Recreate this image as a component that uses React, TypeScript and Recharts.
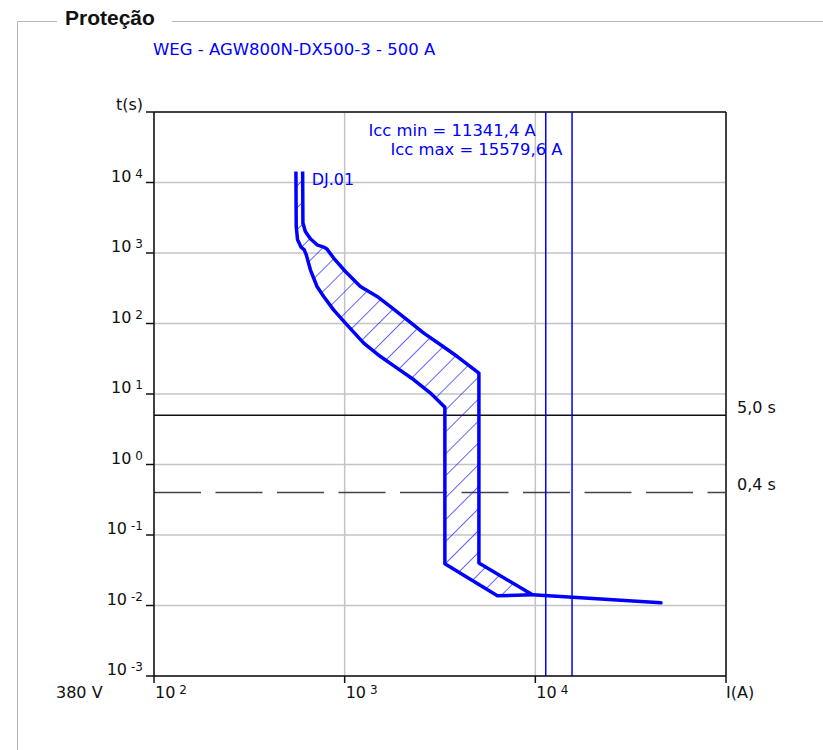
import React from "react";
import {
  ComposedChart,
  Scatter,
  XAxis,
  YAxis,
  CartesianGrid,
  ReferenceLine,
} from "recharts";

// axis ticks (log decades)
const xTicks = [100, 1000, 10000, 100000];
const yTicks = [0.001, 0.01, 0.1, 1, 10, 100, 1000, 10000, 100000];

// DJ.01 - lower (min) boundary of the trip band
const minCurveI = [555, 557, 566, 591, 614, 629, 661, 716, 776, 875, 1009, 1259, 1541, 1884, 2306, 2818, 3354, 3354, 6324, 9663];
const minCurveT = [14300, 2380, 1540, 1210, 1110, 942, 578, 335, 242, 156, 101, 52.7, 34, 23.3, 15.9, 10.3, 6.5, 0.039, 0.0137, 0.0142];

// DJ.01 - upper (max) boundary
const maxCurveI = [602, 604, 622, 661, 716, 776, 808, 875, 1009, 1209, 1479, 1738, 2128, 2601, 3184, 3897, 5059, 5059, 9663];
const maxCurveT = [14300, 2655, 2018, 1590, 1307, 1213, 1136, 847, 547, 335, 242, 174, 113, 73.1, 49.9, 34, 19.8, 0.04, 0.0142];

// instantaneous tail
const tailI = [9663, 45600];
const tailT = [0.0142, 0.0109];

const iccMin = 11341.4;
const iccMax = 15579.6;
const tLimit = 5.0;
const tContact = 0.4;

const BLUE = "#0000ff";
const INK = "#111111";
const FONT = "DejaVu Sans, Verdana, sans-serif";

const toPoints = (is: number[], ts: number[]) => is.map((i, k) => ({ i, t: ts[k] }));
const minCurve = toPoints(minCurveI, minCurveT);
const maxCurve = toPoints(maxCurveI, maxCurveT);
const band = [...minCurve, ...maxCurve.slice().reverse()];
const tail = toPoints(tailI, tailT);
const labelPoint = [maxCurve[0]];

const exp10 = (v: number) => Math.round(Math.log10(v));

function YTick({ x, y, payload }: any) {
  const v = payload.value;
  if (v >= 100000) {
    return (
      <text x={x} y={y - 2} textAnchor="end" fontSize={16} fill={INK} fontFamily={FONT}>
        t(s)
      </text>
    );
  }
  return (
    <text x={x} y={y - 1} textAnchor="end" fontSize={16} fill={INK} fontFamily={FONT}>
      10
      <tspan dx={4} dy={-4} fontSize={12}>
        {exp10(v)}
      </tspan>
    </text>
  );
}

function XTick({ x, y, payload }: any) {
  const v = payload.value;
  if (v >= 100000) {
    return (
      <text x={x} y={y + 15} fontSize={16} fill={INK} fontFamily={FONT}>
        I(A)
      </text>
    );
  }
  return (
    <text x={x + 1} y={y + 15} fontSize={16} fill={INK} fontFamily={FONT}>
      10
      <tspan dx={4} dy={-4} fontSize={12}>
        {exp10(v)}
      </tspan>
    </text>
  );
}

const noDot = () => <g />;

export default function App() {
  return (
    <div style={{ position: "absolute", left: 0, top: 0, width: 823, height: 750, background: "#fff" }}>
      <svg width={823} height={750} style={{ position: "absolute", left: 0, top: 0 }}>
        <path d="M57 21.5 H17.5 V750 M172 21.5 H823" stroke="#b8b8b8" fill="none" strokeWidth={1} />
        <text x={65} y={25} fontSize={21} fontWeight="bold" fontFamily="Liberation Sans, Arial, sans-serif" fill={INK}>
          Proteção
        </text>
        <text x={153} y={55} fontSize={16.5} fontFamily={FONT} fill={BLUE}>
          WEG - AGW800N-DX500-3 - 500 A
        </text>
      </svg>
      <div style={{ position: "absolute", left: 0, top: 0 }}>
        <ComposedChart width={823} height={750} margin={{ top: 112, right: 97, bottom: 44, left: 0 }}>
          <defs>
            <pattern id="hatch" patternUnits="userSpaceOnUse" width={15.5} height={15.5} patternTransform="rotate(45)">
              <line x1={0} y1={0} x2={0} y2={15.5} stroke={BLUE} strokeWidth={1.2} />
            </pattern>
          </defs>
          <CartesianGrid stroke="#c4c4c4" strokeWidth={1.5} />
          <XAxis
            dataKey="i"
            type="number"
            scale="log"
            domain={[100, 100000]}
            ticks={xTicks}
            allowDataOverflow
            height={30}
            tickSize={7}
            tickMargin={0}
            axisLine={{ stroke: INK, strokeWidth: 1.5 }}
            tickLine={{ stroke: INK, strokeWidth: 1.5 }}
            tick={<XTick />}
            interval={0}
            label={(props: any) => (
              <text x={props.viewBox.x - 98} y={698} fontSize={16} fill={INK} fontFamily={FONT}>
                380 V
              </text>
            )}
          />
          <YAxis
            dataKey="t"
            type="number"
            scale="log"
            domain={[0.001, 100000]}
            ticks={yTicks}
            allowDataOverflow
            width={154}
            tickSize={8}
            tickMargin={3}
            axisLine={{ stroke: INK, strokeWidth: 1.5 }}
            tickLine={{ stroke: INK, strokeWidth: 1.5 }}
            tick={<YTick />}
            interval={0}
          />
          <ReferenceLine y={100000} stroke={INK} strokeWidth={1.5} />
          <ReferenceLine x={100000} stroke={INK} strokeWidth={1.5} />
          <ReferenceLine
            y={tLimit}
            stroke={INK}
            strokeWidth={1.5}
            label={(props: any) => (
              <text
                x={props.viewBox.x + props.viewBox.width + 11}
                y={props.viewBox.y - 2}
                fontSize={16}
                fill={INK}
                fontFamily={FONT}
              >
                5,0 s
              </text>
            )}
          />
          <ReferenceLine
            y={tContact}
            stroke="#444"
            strokeWidth={1.5}
            strokeDasharray="47 14.5"
            label={(props: any) => (
              <text
                x={props.viewBox.x + props.viewBox.width + 11}
                y={props.viewBox.y - 2.5}
                fontSize={16}
                fill={INK}
                fontFamily={FONT}
              >
                0,4 s
              </text>
            )}
          />
          <ReferenceLine
            x={iccMin}
            stroke={BLUE}
            strokeWidth={1.5}
            label={(props: any) => (
              <text x={props.viewBox.x - 10} y={props.viewBox.y + 24} textAnchor="end" fontSize={16.4} fill={BLUE} fontFamily={FONT}>
                Icc min = 11341,4 A
              </text>
            )}
          />
          <ReferenceLine
            x={iccMax}
            stroke={BLUE}
            strokeWidth={1.5}
            label={(props: any) => (
              <text x={props.viewBox.x - 9.5} y={props.viewBox.y + 43} textAnchor="end" fontSize={16.4} fill={BLUE} fontFamily={FONT}>
                Icc max = 15579,6 A
              </text>
            )}
          />
          {/* hatched band between min and max curves */}
          <Scatter
            data={band}
            fill={BLUE}
            shape={noDot}
            isAnimationActive={false}
            line={(props: any) => (
              <path
                d={"M" + props.points.map((p: any) => `${p.x},${p.y}`).join("L") + "Z"}
                fill="url(#hatch)"
                stroke="none"
              />
            )}
          />
          <Scatter
            data={minCurve}
            fill={BLUE}
            shape={noDot}
            isAnimationActive={false}
            line={{ stroke: BLUE, strokeWidth: 3.5, strokeLinejoin: "round" }}
          />
          <Scatter
            data={maxCurve}
            fill={BLUE}
            shape={noDot}
            isAnimationActive={false}
            line={{ stroke: BLUE, strokeWidth: 3.5, strokeLinejoin: "round" }}
          />
          <Scatter
            data={tail}
            fill={BLUE}
            shape={noDot}
            isAnimationActive={false}
            line={{ stroke: BLUE, strokeWidth: 3.5, strokeLinecap: "round" }}
          />
          <Scatter
            data={labelPoint}
            fill={BLUE}
            isAnimationActive={false}
            shape={(p: any) => (
              <text x={p.cx + 9} y={p.cy + 13} fontSize={16} fill={BLUE} fontFamily={FONT}>
                DJ.01
              </text>
            )}
          />
        </ComposedChart>
      </div>
    </div>
  );
}
